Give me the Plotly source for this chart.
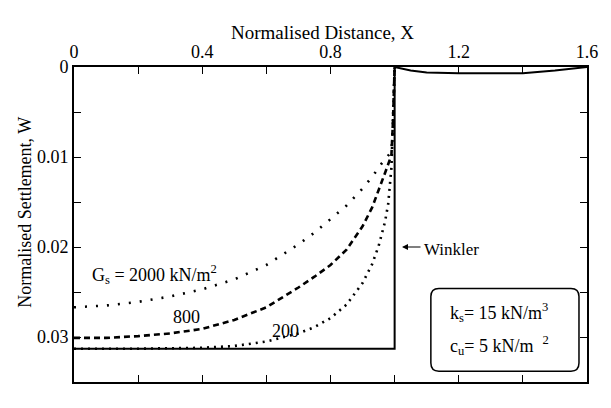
import plotly.graph_objects as go

# ---- data ----
x_2000 = [0, 0.1, 0.2, 0.3, 0.4, 0.5, 0.6, 0.7, 0.75, 0.8, 0.85, 0.9, 0.93, 0.96, 0.98, 0.99, 0.995, 1.0]
w_2000 = [0.0267, 0.0265, 0.0261, 0.0255, 0.0247, 0.0236, 0.0220, 0.0197, 0.0184, 0.0169, 0.0154, 0.0135,
          0.0122, 0.0107, 0.0099, 0.0094, 0.0060, 0.0]

x_800 = [0, 0.1, 0.2, 0.3, 0.4, 0.5, 0.6, 0.7, 0.75, 0.8, 0.85, 0.9, 0.93, 0.955, 0.975, 0.99, 0.995, 1.0]
w_800 = [0.0301, 0.0301, 0.0299, 0.0296, 0.0291, 0.0281, 0.0267, 0.0245, 0.0233, 0.0220, 0.0203, 0.0177,
         0.0156, 0.0133, 0.0113, 0.0098, 0.0060, 0.0]

x_200 = [0, 0.2, 0.4, 0.5, 0.6, 0.7, 0.75, 0.8, 0.85, 0.9, 0.93, 0.95, 0.97, 0.98, 0.99, 0.995, 1.0]
w_200 = [0.0313, 0.0313, 0.0312, 0.0310, 0.0305, 0.0296, 0.0289, 0.0279, 0.0264, 0.0240, 0.0219, 0.0199,
         0.0172, 0.0152, 0.0112, 0.0060, 0.0]

x_winkler = [0, 1.0, 1.0]
w_winkler = [0.0313, 0.0313, 0.0]

x_outside = [1.0, 1.05, 1.1, 1.2, 1.3, 1.4, 1.5, 1.6]
w_outside = [0.0, 0.0004, 0.0006, 0.0007, 0.0007, 0.0007, 0.0004, 0.0]

x_ticks = [0, 0.4, 0.8, 1.2, 1.6]
x_tick_labels = ["0", "0.4", "0.8", "1.2", "1.6"]
y_ticks = [0, 0.01, 0.02, 0.03]
y_tick_labels = ["0", "0.01", "0.02", "0.03"]

FONT = "Liberation Serif, DejaVu Serif, serif"

fig = go.Figure()
fig.add_trace(go.Scatter(x=x_2000, y=w_2000, mode="lines",
                         line=dict(color="black", width=2.6, dash="2px,9px")))
fig.add_trace(go.Scatter(x=x_800, y=w_800, mode="lines",
                         line=dict(color="black", width=2.6, dash="6px,4px")))
fig.add_trace(go.Scatter(x=x_200, y=w_200, mode="lines",
                         line=dict(color="black", width=2.6, dash="2px,5px")))
fig.add_trace(go.Scatter(x=x_winkler, y=w_winkler, mode="lines",
                         line=dict(color="black", width=2)))
fig.add_trace(go.Scatter(x=x_outside, y=w_outside, mode="lines",
                         line=dict(color="black", width=2)))

# rounded box (decoration) in data coords
bx0, bx1, by0, by1 = 1.113, 1.575, 0.0246, 0.0338
rx, ry = 0.025, 0.0009
path = (f"M {bx0+rx},{by0} L {bx1-rx},{by0} Q {bx1},{by0} {bx1},{by0+ry} "
        f"L {bx1},{by1-ry} Q {bx1},{by1} {bx1-rx},{by1} "
        f"L {bx0+rx},{by1} Q {bx0},{by1} {bx0},{by1-ry} "
        f"L {bx0},{by0+ry} Q {bx0},{by0} {bx0+rx},{by0} Z")
fig.add_shape(type="path", path=path, xref="x", yref="y",
              line=dict(color="black", width=1.5), fillcolor="rgba(0,0,0,0)")

tf = dict(family=FONT, size=18, color="black")
ann = [
    dict(x=0.05, y=0.0231, xanchor="left", yanchor="middle", showarrow=False,
         text="G<sub>s</sub> = 2000 kN/m<sup>2</sup>", font=tf),
    dict(x=0.352, y=0.0278, xanchor="center", yanchor="middle", showarrow=False, text="800", font=tf),
    dict(x=0.661, y=0.0293, xanchor="center", yanchor="middle", showarrow=False, text="200", font=tf),
    dict(x=1.085, y=0.0203, xanchor="left", yanchor="middle", showarrow=False, text="Winkler",
         font=dict(family=FONT, size=17, color="black")),
    dict(x=1.023, y=0.0200, ax=20, ay=0, text="", showarrow=True, arrowhead=2,
         arrowsize=1, arrowwidth=1.2, arrowcolor="black"),
    dict(x=1.165, y=0.0273, xanchor="left", yanchor="middle", showarrow=False,
         text="k<sub>s</sub>= 15 kN/m<sup>3</sup>", font=tf),
    dict(x=1.165, y=0.0309, xanchor="left", yanchor="middle", showarrow=False,
         text="c<sub>u</sub>= 5 kN/m  <sup>2</sup>", font=tf),
    dict(x=0.775, y=1.108, xref="x", yref="paper", xanchor="center", yanchor="middle", showarrow=False,
         text="Normalised Distance, X", font=dict(family=FONT, size=19, color="black")),
    dict(x=-0.0955, y=0.537, xref="paper", yref="paper", xanchor="center", yanchor="middle", showarrow=False,
         textangle=-90, text="Normalised Settlement, W", font=tf),
]
fig.update_layout(annotations=ann)

fig.update_xaxes(range=[0, 1.6], side="top", tickvals=x_ticks, ticktext=x_tick_labels,
                 ticks="inside", ticklen=7, tickwidth=1.2, tickcolor="black",
                 minor=dict(dtick=0.2, tick0=0, ticks="inside", ticklen=7, tickwidth=1.2, tickcolor="black"),
                 showline=True, linecolor="black", linewidth=1.8, mirror="ticks",
                 showgrid=False, zeroline=False, tickfont=tf)
fig.update_yaxes(range=[0.035, 0], tickvals=y_ticks, ticktext=y_tick_labels,
                 ticks="inside", ticklen=7, tickwidth=1.2, tickcolor="black",
                 minor=dict(dtick=0.005, tick0=0, ticks="inside", ticklen=7, tickwidth=1.2, tickcolor="black"),
                 showline=True, linecolor="black", linewidth=1.8, mirror="ticks",
                 showgrid=False, zeroline=False, tickfont=tf)

# the page body adds an 8px offset; margins are set so the plot frame lands at x 74-587, y 67-382
fig.update_layout(width=603, height=400, margin=dict(l=66, r=24, t=59, b=26),
                  paper_bgcolor="white", plot_bgcolor="white", showlegend=False,
                  font=dict(family=FONT, size=18, color="black"))

fig.write_html("out.html")
